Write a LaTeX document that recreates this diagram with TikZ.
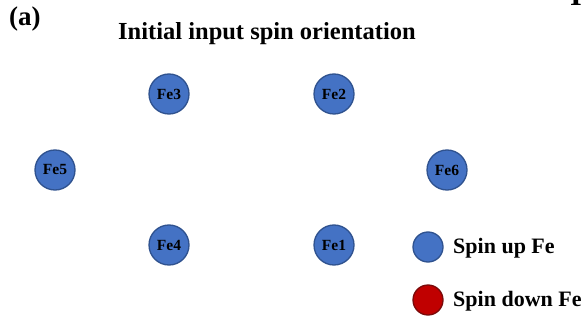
\documentclass[tikz,border=0pt]{standalone}
\usepackage{fontspec}
\setmainfont{Liberation Serif}
\definecolor{feblue}{HTML}{4472C4}
\definecolor{feblueedge}{HTML}{2F528F}
\definecolor{fered}{HTML}{C00000}
\definecolor{frededge}{HTML}{7A0A0A}
\begin{document}
\begin{tikzpicture}[x=1pt,y=-1pt,
  atom/.style={circle,draw=feblueedge,line width=1.3pt,fill=feblue,minimum size=40pt,inner sep=0pt,
    font=\fontsize{15.5}{17}\selectfont\bfseries},
  keyup/.style={circle,draw=feblueedge,line width=1.3pt,fill=feblue,minimum size=30pt,inner sep=0pt},
  keydown/.style={circle,draw=frededge,line width=1.3pt,fill=fered,minimum size=30pt,inner sep=0pt},
  keytext/.style={anchor=base west,inner sep=0pt,font=\fontsize{22}{26}\selectfont\bfseries}]
\useasboundingbox[fill=white] (0,0) rectangle (585,320);
% panel label and heading
\node[anchor=base west,inner sep=0pt,font=\fontsize{27}{30}\selectfont\bfseries] (panel) at (9,26) {(a)};
\node[anchor=base west,inner sep=0pt,font=\fontsize{24.5}{28}\selectfont\bfseries] (title) at (118,40) {Initial input spin orientation};
% neighbouring panel heading, cut at the top edge
\node[anchor=base,inner sep=0pt,font=\fontsize{30}{34}\selectfont\bfseries] (next) at (576,6) {I};
% Fe sites
\node[atom] (fe3) at (169,94) {Fe3};
\node[atom] (fe2) at (334,94) {Fe2};
\node[atom] (fe5) at (55,170) {Fe5};
\node[atom] (fe6) at (447,170) {Fe6};
\node[atom] (fe4) at (169,245) {Fe4};
\node[atom] (fe1) at (334,245) {Fe1};
% key
\node[keyup] (up) at (428,247) {};
\node[keydown] (down) at (428,300) {};
\node[keytext] (uptext) at (453,253) {Spin up Fe};
\node[keytext] (downtext) at (453,306) {Spin down Fe};
\end{tikzpicture}
\end{document}
